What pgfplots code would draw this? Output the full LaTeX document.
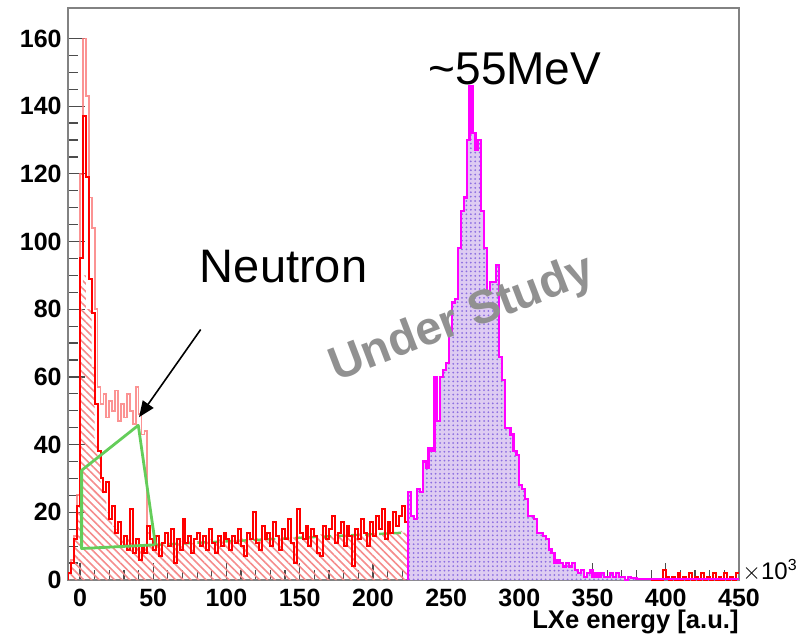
\documentclass[border=0pt]{standalone}
\usepackage{fontspec}
\setmainfont{Liberation Sans}
\usepackage{pgfplots}
\pgfplotsset{compat=1.18}
\usetikzlibrary{patterns.meta,arrows.meta}
\definecolor{rootred}{rgb}{1,0,0}
\definecolor{palered}{RGB}{250,120,120}
\definecolor{hatchred}{RGB}{245,140,140}
\definecolor{rootmag}{RGB}{255,0,255}
\definecolor{lav}{RGB}{222,204,242}
\definecolor{lavdot}{RGB}{140,110,225}
\definecolor{neutgreen}{RGB}{100,205,90}
\definecolor{wmgray}{RGB}{145,145,145}
\definecolor{framegray}{RGB}{130,130,130}
\begin{document}
\begin{tikzpicture}
\begin{axis}[
  scale only axis, width=335.5pt, height=286pt,
  xmin=-8.2, xmax=450, ymin=0, ymax=169,
  axis line style={framegray, line width=0.6pt},
  tick align=inside, tick pos=left,
  xtick={0,50,...,450}, minor x tick num=4,
  ytick={0,20,...,160}, minor y tick num=3,
  major tick length=8.5pt, minor tick length=5pt,
  tick style={black!70, line width=0.6pt},
  scaled x ticks=false,
  /pgf/number format/assume math mode=true,
  ticklabel style={font=\fontsize{12.5}{14}\selectfont\bfseries},
  yticklabel style={inner sep=0pt, xshift=-3pt},
  xticklabel style={inner sep=0pt, yshift=-4.5pt},
  clip=true,
]
% hatched fill (red)
\addplot[const plot, draw=none, pattern={Lines[angle=-45,distance=2.7pt,line width=0.8pt]}, pattern color=hatchred] coordinates {
(-8,2) (-6,5) (-4,12) (-2,22) (0,88) (2,90) (4,80) (6,80) (8,63) (10,40) (12,36) (14,28) (16,24) (18,20) (20,18) (22,16) (24,15) (26,14) (28,13) (30,12) (32,12) (34,11) (36,11) (38,11) (40,10) (42,10) (44,10) (46,10) (48,10) (50,11)
(52,10.5) (54,11) (56,10.5) (58,11) (60,11) (62,10.5) (64,11) (66,11) (68,11.5) (70,11) (72,11) (74,11.5) (76,11) (78,11.5) (80,11.5) (82,11) (84,11.5) (86,11.5) (88,12) (90,11.5) (92,11.5) (94,12) (96,11.5) (98,12) (100,12) (102,12) (104,11.5) (106,12) (108,12) (110,12.5) (112,12) (114,12) (116,12.5) (118,12) (120,12.5) (122,12.5) (124,12) (126,12.5) (128,12.5) (130,12.5) (132,12) (134,12.5) (136,13) (138,12.5) (140,12.5) (142,13) (144,12.5) (146,13) (148,13) (150,12.5) (152,13) (154,13) (156,13) (158,12.5) (160,13) (162,13) (164,13.5) (166,13) (168,13) (170,13.5) (172,13) (174,13.5) (176,13) (178,13.5) (180,13.5) (182,13) (184,13.5) (186,13.5) (188,13.5) (190,14) (192,13.5) (194,13.5) (196,14) (198,13.5) (200,14) (202,14) (204,13.5) (206,14) (208,14) (210,14) (212,14.5) (214,14) (216,14) (218,14.5) (220,14) (222,14.5) (224,14.5)
} \closedcycle;
% magenta fill
\addplot[const plot, draw=none, fill=lav, postaction={pattern={Dots[distance=2.2pt,radius=0.5pt]}, pattern color=lavdot}] coordinates {
(224,26) (226,19) (228,18) (230,27) (232,26) (234,35) (236,33) (238,39) (240,38) (242,60) (244,47) (246,60) (248,62) (250,64) (252,73) (254,82) (256,83) (258,98) (260,109) (262,113) (264,130) (266,146) (268,132) (270,127) (272,130) (274,109) (276,98) (278,85) (280,88) (282,88) (284,93) (286,66) (288,59) (290,45) (292,45) (294,43) (296,38) (298,37) (300,28) (302,27) (304,24) (306,19) (308,19) (310,18) (312,14) (314,14) (316,13) (318,12) (320,9) (322,8) (324,5) (326,6) (328,5) (330,4) (332,5) (334,4) (336,5) (338,3) (340,2) (342,3) (344,1) (346,2) (348,3) (350,1) (352,2) (354,1) (356,2) (358,1) (360,1) (362,2) (364,1) (366,2) (368,1) (370,1) (372,0) (374,1) (376,0.5) (380,0.4) (450,0.4)
} \closedcycle;
% pale red histogram
\addplot[const plot, draw=palered, line width=0.9pt, opacity=0.8] coordinates {
(-8,0) (-8,2) (-6,6) (-4,13) (-2,25) (0,120) (2,160) (4,143) (6,113) (8,104) (10,80) (12,57) (14,52) (16,55) (18,48) (20,53) (22,50) (24,56) (26,47) (28,52) (30,48) (32,55) (34,50) (36,46) (38,57) (40,49) (42,43) (44,44) (46,14) (48,12) (50,12)
};
% green dashed continuation
\addplot[draw=neutgreen, line width=1.2pt, dash pattern=on 4pt off 3pt] coordinates {(51.5,10.4) (222,14)};
% solid red histogram
\addplot[const plot, draw=rootred, line width=1pt] coordinates {
(-8,0) (-8,2) (-6,5) (-4,12) (-2,22) (0,95) (2,137) (4,119) (6,89) (8,79) (10,52) (12,38) (14,30) (16,26) (18,29) (20,18) (22,22) (24,14) (26,17) (28,10) (30,13) (32,9) (34,21) (36,8) (38,12) (40,6) (42,10) (44,8) (46,16) (48,12)
(50,9) (52,13) (54,7) (56,11) (58,14) (60,10) (62,15) (64,5) (66,12) (68,9) (70,18) (72,11) (74,13) (76,8) (78,12) (80,14) (82,10) (84,13) (86,9) (88,15) (90,11) (92,8) (94,13) (96,10) (98,14) (100,12) (102,9) (104,13) (106,11) (108,15) (110,10) (112,7) (114,14) (116,12) (118,20) (120,11) (122,9) (124,16) (126,12) (128,14) (130,10) (132,17) (134,13) (136,9) (138,15) (140,12) (142,18) (144,11) (146,5) (148,21) (150,14) (152,12) (154,16) (156,10) (158,15) (160,13) (162,8) (164,7) (166,16) (168,12) (170,15) (172,19) (174,11) (176,14) (178,17) (180,10) (182,16) (184,13) (186,4) (188,15) (190,12) (192,18) (194,14) (196,10) (198,17) (200,13) (202,19) (204,15) (206,21) (208,12) (210,17) (212,14) (214,20) (216,16) (218,19) (220,22) (222,17) (224,17)
};
% red tail
\addplot[const plot, draw=rootred, line width=1pt] coordinates {
(390,0) (396,0) (398,3) (400,1) (402,0) (404,1) (406,0) (408,2) (410,0) (412,1) (414,0) (416,2) (418,0) (420,1) (422,0) (424,2) (426,0) (428,1) (430,0) (432,2) (434,0) (436,1) (438,0) (440,2) (442,0) (444,1) (446,0) (448,2) (450,2)
};
% magenta line
\addplot[const plot, draw=rootmag, line width=1.1pt] coordinates {
(224,0) (224,26) (226,19) (228,18) (230,27) (232,26) (234,35) (236,33) (238,39) (240,38) (242,60) (244,47) (246,60) (248,62) (250,64) (252,73) (254,82) (256,83) (258,98) (260,109) (262,113) (264,130) (266,146) (268,132) (270,127) (272,130) (274,109) (276,98) (278,85) (280,88) (282,88) (284,93) (286,66) (288,59) (290,45) (292,45) (294,43) (296,38) (298,37) (300,28) (302,27) (304,24) (306,19) (308,19) (310,18) (312,14) (314,14) (316,13) (318,12) (320,9) (322,8) (324,5) (326,6) (328,5) (330,4) (332,5) (334,4) (336,5) (338,3) (340,2) (342,3) (344,1) (346,2) (348,3) (350,1) (352,2) (354,1) (356,2) (358,1) (360,1) (362,2) (364,1) (366,2) (368,1) (370,1) (372,0) (374,1) (376,0.5) (380,0.4) (450,0.4)
};
% green neutron polygon
\addplot[draw=neutgreen, line width=1.4pt, line join=round] coordinates {(51.5,10.4) (39.8,45.7) (1.1,32.4) (1.1,9.3) (51.5,10.4)};
% annotations
\draw[black, line width=0.8pt, -{Triangle[length=8pt,width=6.5pt]}] (axis cs:82.4,74) -- (axis cs:40.3,48.1);
\node[anchor=base, inner sep=0pt, font=\fontsize{23.5}{26}\selectfont] at (axis cs:139,87.9) {Neutron};
\node[anchor=base, inner sep=0pt, font=\fontsize{23}{26}\selectfont] at (axis cs:297,146.5) {\char`\~55MeV};
\node[anchor=base, inner sep=0pt, rotate=21, text=wmgray, font=\fontsize{23.5}{26}\selectfont\bfseries] at (axis cs:264,73.5) {Under Study};
\end{axis}
\node[anchor=base west, inner sep=0pt, font=\fontsize{12}{14}\selectfont] at ([xshift=1.5pt,yshift=0.5pt]current axis.south east) {$\times$10\textsuperscript{3}};
\node[anchor=base east, inner sep=0pt, font=\fontsize{12.8}{15}\selectfont\bfseries] at ([yshift=-24pt]current axis.south east) {LXe energy [a.u.]};
\path ([xshift=-34pt,yshift=-30.5pt]current axis.south west) rectangle ([xshift=30.5pt,yshift=4pt]current axis.north east);
\end{tikzpicture}
\end{document}
